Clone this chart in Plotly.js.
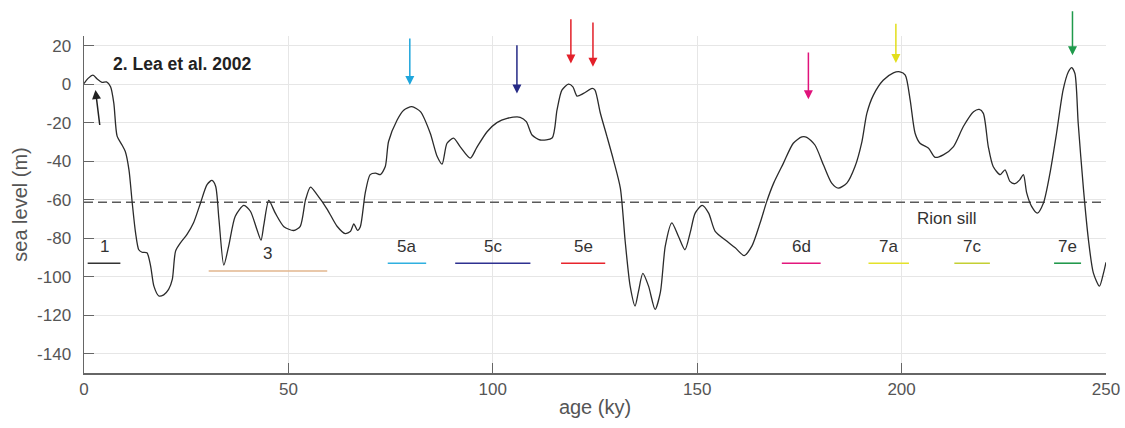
<!DOCTYPE html>
<html>
<head>
<meta charset="utf-8">
<script src="https://cdn.plot.ly/plotly-3.0.1.min.js"></script>
<style>html,body{margin:0;padding:0;background:#fff;}#chart{width:1125px;height:428px;}</style>
</head>
<body>
<div id="chart"></div>
<script>
// ---- data ----
const ageKy = [0,1.0,2.2,3.3,4.4,5.5,6.5,7.3,8.1,9.3,10.1,11.0,11.8,12.6,13.4,14.2,15.4,16.3,17.1,18.3,19.5,20.7,21.6,22.4,23.6,25.2,26.8,28.5,30.1,31.3,32.2,33.0,34.2,35.4,37.0,39.1,40.7,42.3,43.3,44.0,45.2,46.8,48.9,51.3,52.9,54.2,55.4,57.0,59.5,61.9,63.9,65.2,66.0,66.9,67.6,68.8,70.0,71.3,72.5,73.7,74.5,76.6,78.2,80.2,82.3,84.7,86.4,87.6,88.8,90.4,92.0,94.5,96.1,98.6,101.0,103.5,106.7,108.2,109.6,111.6,114.5,115.7,116.9,118.5,119.6,120.6,122.2,124.3,125.0,126.3,127.9,129.5,131.2,132.4,133.6,134.8,135.6,136.7,138.1,139.7,141.0,142.2,143.8,145.4,147.0,148.3,149.5,151.2,152.8,154.4,157.3,159.3,161.5,163.4,165.4,167.0,168.7,171.1,173.5,175.6,176.8,178.8,180.9,182.9,184.5,186.6,188.6,190.3,191.5,193.1,195.5,198.0,199.6,200.9,202.1,203.3,204.5,206.6,208.2,210.2,212.7,215.1,217.6,219.0,220.0,221.2,222.4,224.1,225.3,226.5,227.7,228.9,229.8,230.6,231.8,233.2,234.7,236.3,237.9,239.5,240.8,241.6,242.4,243.2,244.5,245.7,246.9,248.4,249.4,250.0];
const seaLevel = [0.3,3.0,4.7,2.5,0.9,1.2,-1.4,-10,-27,-31.6,-35,-44.5,-61.7,-77,-86,-87.3,-87.6,-94.5,-104.9,-110,-109.4,-106.6,-101.4,-86.7,-82.4,-78,-72,-61.7,-52.2,-50,-53,-70,-94,-84,-68.6,-63,-66,-75.5,-81,-73,-60.4,-67,-74,-76,-73.8,-60,-53.5,-57.4,-65,-73.8,-77.6,-76.4,-72.6,-75.9,-74,-56.5,-47,-46.2,-47,-42.8,-29.8,-18.6,-13.5,-11.7,-14.3,-25.5,-37.6,-41.5,-30.7,-28,-32.4,-38.4,-32.8,-24.7,-20,-17.8,-17.2,-19.5,-26.4,-29,-28,-13.5,-3.1,0,-1.4,-6.2,-4.8,-2.2,-3.1,-15,-27,-39.3,-54,-82,-104.9,-115.2,-108,-98.3,-104.9,-117,-108,-84,-72,-79,-86,-77,-67,-63,-67,-76.4,-81.6,-85,-89,-84,-72,-61,-51.4,-41,-30.7,-27.4,-27.6,-31.6,-42,-51.4,-54,-51.4,-42.8,-29.8,-15.2,-5.7,2,5.9,6.4,4.7,-8.3,-25.5,-30.7,-33.3,-38,-36.7,-32.4,-22,-14.3,-13.1,-15.2,-32.4,-42.8,-47,-44.5,-50.5,-51.7,-49.7,-47,-56.5,-63.5,-67,-61.7,-46.2,-25.5,-3.1,6.4,8.6,5.5,-20.3,-54.8,-80.7,-98,-104.9,-98,-92.5];

const rionSillLevel = -61.3;
const rionSillLabel = "Rion sill";

const stageNames = ["1","3","5a","5c","5e","6d","7a","7c","7e"];
const stageStart = [0.9,30.5,74.3,90.8,116.7,170.7,191.9,212.9,237.3];
const stageEnd   = [8.9,59.5,83.7,109.2,127.5,180.2,201.8,221.6,243.9];
const stageLevel = [-93,-97,-93,-93,-93,-93,-93,-93,-93];
const stageColors = ["#333333","#e2b68e","#2fb0e0","#2e3190","#e8242c","#e3177d","#e4e22a","#c4cf33","#22994c"];

const arrowAge   = [2.8,79.7,105.9,119.1,124.5,177.2,198.6,241.8];
const arrowTipY  = [-3.1,-0.5,-4.8,10.7,9.0,-7.9,11.0,15.0];
const arrowTailAge = [3.9,79.7,105.9,119.1,124.5,177.2,198.6,241.8];
const arrowTailY = [-22,24.5,21,34.5,32.8,17.2,32.2,38.6];
const arrowColors = ["#222222","#1fa6dc","#262a86","#e3202a","#e3202a","#e0137b","#e2de1c","#1f9a4b"];

const panelLabel = "2. Lea et al. 2002";
const panelLabelAge = 7.3, panelLabelY = 10.3;

const xTickVals = [0,50,100,150,200,250];
const yTickVals = [20,0,-20,-40,-60,-80,-100,-120,-140];
const yTickText = ["20","0","-20","-40","-60","-80","-100","-120","-140"];

// ---- traces ----
const FONT = "Liberation Sans, Arial, Helvetica, sans-serif";
const traces = [];
traces.push({x:[0,250], y:[rionSillLevel,rionSillLevel], mode:"lines",
  line:{color:"#5a5a5a", width:1.5, dash:"9px,5px"}, hoverinfo:"skip"});
stageNames.forEach((n,i)=>{
  traces.push({x:[stageStart[i],stageEnd[i]], y:[stageLevel[i],stageLevel[i]], mode:"lines",
    line:{color:stageColors[i], width:1.6}, hoverinfo:"skip"});
});
traces.push({x:ageKy, y:seaLevel, mode:"lines",
  line:{color:"#2b2b2b", width:1.3, shape:"spline", smoothing:0.7}});

const annotations = [];
stageNames.forEach((n,i)=>{
  annotations.push({x:(stageStart[i]+stageEnd[i])/2, y:stageLevel[i], xref:"x", yref:"y",
    text:n, showarrow:false, yshift:17, font:{family:FONT,size:17,color:"#333"}});
});
arrowAge.forEach((a,i)=>{
  annotations.push({x:a, y:arrowTipY[i], ax:arrowTailAge[i], ay:arrowTailY[i],
    xref:"x", yref:"y", axref:"x", ayref:"y", text:"", showarrow:true,
    arrowhead:2, arrowsize:1.2, arrowwidth:1.5, arrowcolor:arrowColors[i], standoff:0});
});
annotations.push({x:panelLabelAge, y:panelLabelY, xref:"x", yref:"y", text:"<b>"+panelLabel+"</b>",
  showarrow:false, xanchor:"left", yanchor:"middle", xshift:-3, font:{family:FONT,size:17.5,color:"#222"}});
annotations.push({x:211.2, y:rionSillLevel, xref:"x", yref:"y", text:rionSillLabel,
  showarrow:false, yshift:-16, font:{family:FONT,size:17,color:"#333"}});

const layout = {
  width:1125, height:428,
  margin:{l:84, r:19, t:36, b:55},
  paper_bgcolor:"#fff", plot_bgcolor:"#fff",
  showlegend:false,
  font:{family:FONT, color:"#555"},
  xaxis:{range:[0,250], tickvals:xTickVals, ticks:"inside", ticklen:10, tickwidth:1.2, tickcolor:"#666",
    showline:true, linecolor:"#666", linewidth:1.5, showgrid:true, gridcolor:"#e6e6e6", gridwidth:1,
    zeroline:false, tickfont:{family:FONT,size:17,color:"#555"},
    title:{text:"age (ky)", font:{family:FONT,size:20,color:"#555"}, standoff:2}},
  yaxis:{range:[-150,25], tickvals:yTickVals, ticktext:yTickText, ticks:"inside", ticklen:10, tickwidth:1.2, tickcolor:"#666",
    showline:true, linecolor:"#666", linewidth:1.5, showgrid:true, gridcolor:"#e6e6e6", gridwidth:1,
    zeroline:false, tickfont:{family:FONT,size:17,color:"#555"}, ticklabelstandoff:8,
    title:{text:"sea level (m)", font:{family:FONT,size:20,color:"#555"}, standoff:4}},
  annotations:annotations
};
Plotly.newPlot("chart", traces, layout, {staticPlot:true, displayModeBar:false});
</script>
</body>
</html>
